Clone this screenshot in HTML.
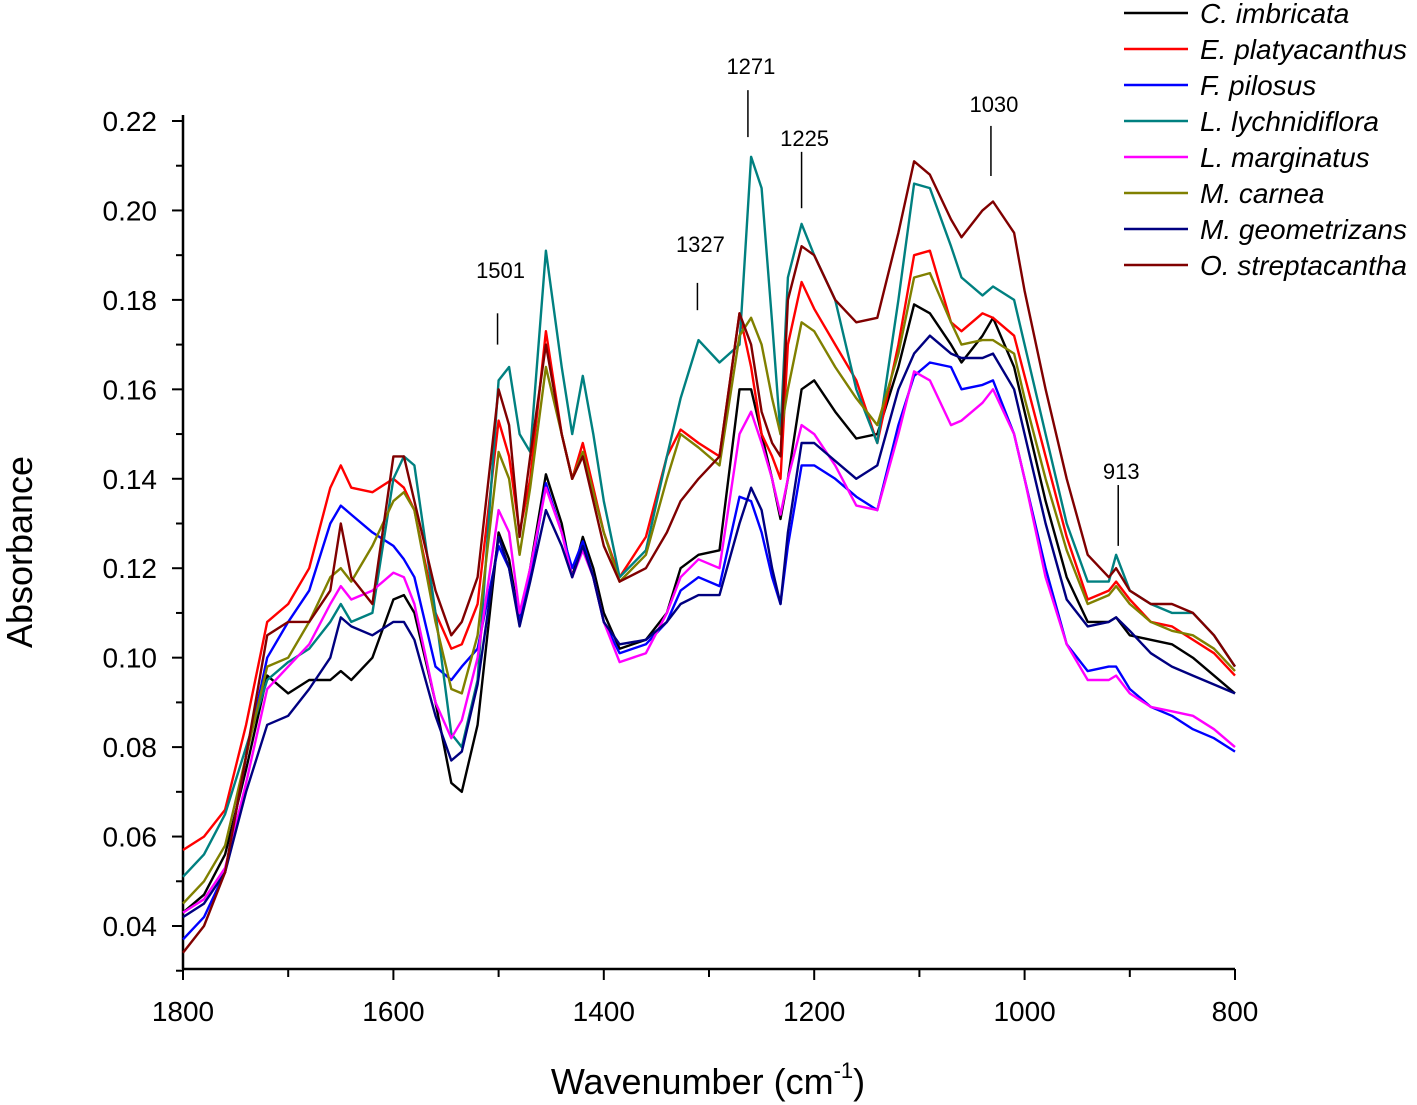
<!DOCTYPE html>
<html><head><meta charset="utf-8"><style>
body{margin:0;background:#fff}
svg{display:block;font-family:"Liberation Sans",Arial,sans-serif}
</style></head><body>
<svg id="chart" width="1417" height="1105" viewBox="0 0 1417 1105" xmlns="http://www.w3.org/2000/svg"></svg>
<script>
const wavenumbers=[1800,1780,1760,1740,1720,1700,1680,1660,1650,1640,1620,1600,1590,1580,1560,1545,1535,1520,1500,1490,1480,1470,1455,1440,1430,1420,1410,1400,1385,1360,1340,1327,1310,1290,1271,1260,1250,1240,1232,1225,1212,1200,1180,1160,1140,1120,1105,1090,1070,1060,1040,1030,1010,1000,980,960,940,920,913,900,880,860,840,820,800];
const seriesNames=["C. imbricata","E. platyacanthus","F. pilosus","L. lychnidiflora","L. marginatus","M. carnea","M. geometrizans","O. streptacantha"];
const seriesColors=["#000000","#ff0000","#0000ff","#008080","#ff00ff","#808000","#000080","#800000"];
const cImbricata=[.043,.047,.056,.075,.096,.092,.095,.095,.097,.095,.100,.113,.114,.110,.090,.072,.070,.085,.128,.122,.108,.120,.141,.130,.118,.127,.120,.110,.102,.104,.110,.120,.123,.124,.160,.160,.150,.140,.131,.140,.160,.162,.155,.149,.150,.165,.179,.177,.170,.166,.172,.176,.165,.155,.135,.118,.108,.108,.109,.105,.104,.103,.100,.096,.092];
const ePlatyacanthus=[.057,.060,.066,.085,.108,.112,.120,.138,.143,.138,.137,.140,.138,.133,.110,.102,.103,.112,.153,.145,.128,.140,.173,.150,.140,.148,.138,.128,.118,.127,.145,.151,.148,.145,.177,.165,.150,.145,.140,.170,.184,.178,.170,.162,.148,.170,.190,.191,.175,.173,.177,.176,.172,.163,.145,.127,.113,.115,.117,.113,.108,.107,.104,.101,.096];
const fPilosus=[.037,.042,.052,.078,.100,.108,.115,.130,.134,.132,.128,.125,.122,.118,.098,.095,.098,.102,.125,.120,.108,.118,.139,.128,.120,.126,.118,.108,.101,.103,.108,.115,.118,.116,.136,.135,.128,.118,.112,.125,.143,.143,.140,.136,.133,.152,.163,.166,.165,.160,.161,.162,.150,.140,.120,.103,.097,.098,.098,.093,.089,.087,.084,.082,.079];
const lLychnidiflora=[.051,.056,.065,.080,.095,.099,.102,.108,.112,.108,.110,.140,.145,.143,.110,.083,.080,.095,.162,.165,.150,.146,.191,.165,.150,.163,.150,.135,.118,.124,.145,.158,.171,.166,.170,.212,.205,.175,.150,.185,.197,.190,.180,.160,.148,.180,.206,.205,.192,.185,.181,.183,.180,.170,.150,.130,.117,.117,.123,.115,.112,.110,.110,.105,.098];
const lMarginatus=[.043,.046,.053,.072,.093,.098,.103,.112,.116,.113,.115,.119,.118,.112,.090,.082,.086,.100,.133,.128,.110,.120,.138,.128,.118,.124,.118,.108,.099,.101,.110,.118,.122,.120,.150,.155,.148,.140,.132,.140,.152,.150,.143,.134,.133,.150,.164,.162,.152,.153,.157,.160,.150,.140,.118,.103,.095,.095,.096,.092,.089,.088,.087,.084,.080];
const mCarnea=[.045,.050,.058,.078,.098,.100,.108,.118,.120,.117,.125,.135,.137,.133,.108,.093,.092,.105,.146,.140,.123,.138,.165,.150,.140,.146,.137,.128,.117,.123,.140,.150,.147,.143,.172,.176,.170,.158,.150,.160,.175,.173,.165,.158,.152,.168,.185,.186,.175,.170,.171,.171,.168,.158,.140,.124,.112,.114,.116,.112,.108,.106,.105,.102,.097];
const mGeometrizans=[.042,.045,.052,.070,.085,.087,.093,.100,.109,.107,.105,.108,.108,.104,.087,.077,.079,.094,.127,.120,.107,.117,.133,.125,.118,.125,.118,.108,.103,.104,.108,.112,.114,.114,.130,.138,.133,.120,.112,.128,.148,.148,.144,.140,.143,.160,.168,.172,.168,.167,.167,.168,.160,.150,.130,.113,.107,.108,.109,.106,.101,.098,.096,.094,.092];
const oStreptacantha=[.034,.040,.052,.078,.105,.108,.108,.115,.130,.118,.112,.145,.145,.135,.115,.105,.108,.118,.160,.152,.127,.145,.170,.150,.140,.145,.135,.125,.117,.120,.128,.135,.140,.145,.177,.170,.155,.148,.145,.180,.192,.190,.180,.175,.176,.195,.211,.208,.198,.194,.200,.202,.195,.182,.160,.140,.123,.118,.120,.115,.112,.112,.110,.105,.098];
const seriesValues=[cImbricata,ePlatyacanthus,fPilosus,lLychnidiflora,lMarginatus,mCarnea,mGeometrizans,oStreptacantha];
const yTicks=[0.04,0.06,0.08,0.10,0.12,0.14,0.16,0.18,0.20,0.22];
const xTicks=[1800,1600,1400,1200,1000,800];
const peakLabels=["1501","1327","1271","1225","1030","913"];
const peakPositions=[1501,1311,1263,1212,1032,911];
const peakLineBottom=[0.170,0.1777,0.2164,0.2005,0.2077,0.125];
const peakLineTop=[0.177,0.1838,0.2269,0.2131,0.2189,0.1386];
const peakTextValue=[0.1849,0.1907,0.2305,0.2144,0.2220,0.1400];

const NS="http://www.w3.org/2000/svg";
const svg=document.getElementById('chart');
const X0=183,X1=1235,Y0=969;
function xs(w){return X0+(1800-w)*(X1-X0)/1000;}
function ys(v){return 926-(v-0.04)*(926-121)/0.18;}
function mk(tag,attrs,parent){const e=document.createElementNS(NS,tag);for(const k in attrs)e.setAttribute(k,attrs[k]);(parent||svg).appendChild(e);return e;}

const axes=mk('g',{});


const yAxis=mk('line',{x1:X0,y1:115,x2:X0,y2:Y0,stroke:'#000','stroke-width':2.5},axes);


const xAxis=mk('line',{x1:X0-1,y1:Y0,x2:X1,y2:Y0,stroke:'#000','stroke-width':2.5},axes);


for(let v=0.03;v<=0.2251;v+=0.01){const y=ys(v);const major=Math.abs(Math.round(v*100)%2)===0;
  const t=mk('line',{x1:X0-(major?11:7),y1:y,x2:X0,y2:y,stroke:'#000','stroke-width':2},axes);
  
  }
yTicks.forEach(v=>{const t=mk('text',{x:157,y:ys(v)+10,'font-size':28,'text-anchor':'end'},axes);t.textContent=v.toFixed(2);
  
  });
for(let w=1800;w>=800;w-=100){const x=xs(w);const major=w%200===0;
  const t=mk('line',{x1:x,y1:Y0,x2:x,y2:Y0+(major?11:8),stroke:'#000','stroke-width':2},axes);
  
  }
xTicks.forEach(w=>{const t=mk('text',{x:xs(w),y:1021,'font-size':28,'text-anchor':'middle'},axes);t.textContent=w;
  
  });
const yt=mk('text',{x:0,y:0,'font-size':36,'text-anchor':'middle',transform:'translate(32,552) rotate(-90)'});
yt.textContent='Absorbance';


const xt=mk('text',{x:708,y:1094,'font-size':36,'text-anchor':'middle'});
xt.innerHTML='Wavenumber (cm<tspan font-size="22" dy="-16">-1</tspan><tspan dy="16">)</tspan>';



seriesValues.forEach((vals,i)=>{
  const d=vals.map((v,j)=>(j?'L':'M')+xs(wavenumbers[j]).toFixed(1)+' '+ys(v).toFixed(1)).join(' ');
  const p=mk('path',{d:d,fill:'none',stroke:seriesColors[i],'stroke-width':2.4,'stroke-linejoin':'round'});
  
  
});

peakLabels.forEach((lab,i)=>{
  const x=xs(peakPositions[i]);
  const l=mk('line',{x1:x,y1:ys(peakLineBottom[i]),x2:x,y2:ys(peakLineTop[i]),stroke:'#000','stroke-width':1.5});
  
  
  const t=mk('text',{x:x+3,y:ys(peakTextValue[i]),'font-size':22,'text-anchor':'middle'});
  t.textContent=lab;
  
  
});

const legend=mk('g',{});


seriesNames.forEach((n,i)=>{
  const y=13+i*36;
  const l=mk('line',{x1:1124,y1:y,x2:1188,y2:y,stroke:seriesColors[i],'stroke-width':2.5},legend);
  
  
  const t=mk('text',{x:1200,y:y+10,'font-size':28,'font-style':'italic'},legend);
  t.textContent=n;
  
  
});
</script>
</body></html>
